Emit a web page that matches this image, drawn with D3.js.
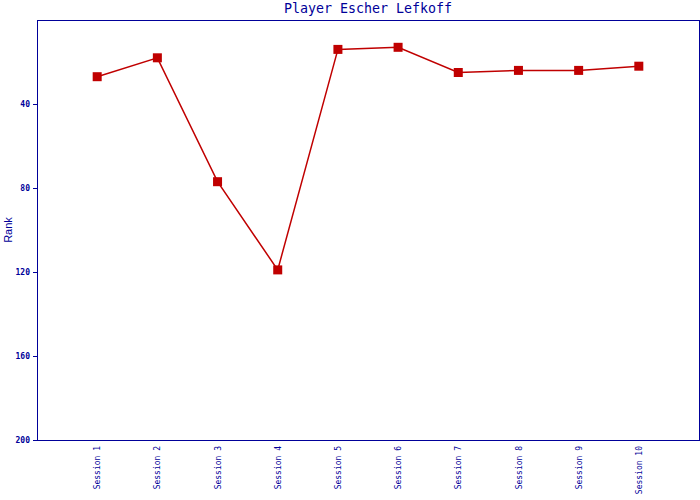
<!DOCTYPE html>
<html><head><meta charset="utf-8">
<script src="https://cdn.jsdelivr.net/npm/d3@7"></script>
<style>body{margin:0;background:#fff}</style>
</head><body>
<script>
const title = "Player Escher Lefkoff";
const sessions = ["Session 1","Session 2","Session 3","Session 4","Session 5","Session 6","Session 7","Session 8","Session 9","Session 10"];
const ranks = [27, 18, 77, 119, 14, 13, 25, 24, 24, 22];
const yTicks = [40, 80, 120, 160, 200];

const W = 700, H = 500;
const m = {left: 37, right: 1, top: 20, bottom: 60};
const blue = "#000099", red = "#c00000";
const svg = d3.select("body").append("svg").attr("width", W).attr("height", H);

const x = d3.scalePoint().domain(sessions).range([m.left, W - m.right]).padding(1);
const y = d3.scaleLinear().domain([0, 200]).range([m.top, H - m.bottom]);

// frame
svg.append("rect").attr("x", m.left).attr("y", m.top)
  .attr("width", W - m.right - m.left).attr("height", H - m.bottom - m.top)
  .attr("fill", "none").attr("stroke", blue).attr("stroke-width", 1)
  .attr("shape-rendering", "crispEdges");

const ya = svg.append("g").attr("transform", `translate(${m.left},0)`)
  .call(d3.axisLeft(y).tickValues(yTicks).tickSize(4).tickSizeOuter(0).tickPadding(3));
ya.select(".domain").attr("stroke", blue).attr("shape-rendering", "crispEdges");
ya.selectAll("line").attr("stroke", blue).attr("shape-rendering", "crispEdges");
ya.selectAll("text").attr("fill", blue).attr("font-family", "DejaVu Sans Mono")
  .attr("font-size", 8).attr("font-weight", "bold");

const xa = svg.append("g").attr("transform", `translate(0,${H - m.bottom})`)
  .call(d3.axisBottom(x).tickSize(0).tickPadding(0));
xa.select(".domain").attr("stroke", blue).attr("shape-rendering", "crispEdges");
xa.selectAll("text").attr("fill", blue).attr("font-family", "DejaVu Sans Mono")
  .attr("font-size", 8)
  .attr("text-anchor", "end").attr("dy", "0.32em")
  .attr("transform", "translate(0,6) rotate(-90)")
  .attr("x", 0).attr("y", 0);

// title
svg.append("text").attr("x", (m.left + W - m.right) / 2).attr("y", 13)
  .attr("text-anchor", "middle").attr("fill", blue)
  .attr("font-family", "DejaVu Sans Mono").attr("font-size", 13.3).text(title);

// y label
svg.append("text").attr("transform", `translate(12,${(m.top + H - m.bottom) / 2}) rotate(-90)`)
  .attr("text-anchor", "middle").attr("fill", blue)
  .attr("font-family", "Liberation Sans").attr("font-size", 11).text("Rank");

const data = sessions.map((s, i) => ({s, r: ranks[i]}));
svg.append("path").datum(data)
  .attr("d", d3.line().x(d => x(d.s)).y(d => y(d.r)))
  .attr("fill", "none").attr("stroke", red).attr("stroke-width", 1.5);

svg.selectAll("rect.pt").data(data).enter().append("rect").attr("class", "pt")
  .attr("x", d => x(d.s) - 4.5).attr("y", d => y(d.r) - 4.5)
  .attr("width", 9).attr("height", 9).attr("fill", red);
</script>
</body></html>
